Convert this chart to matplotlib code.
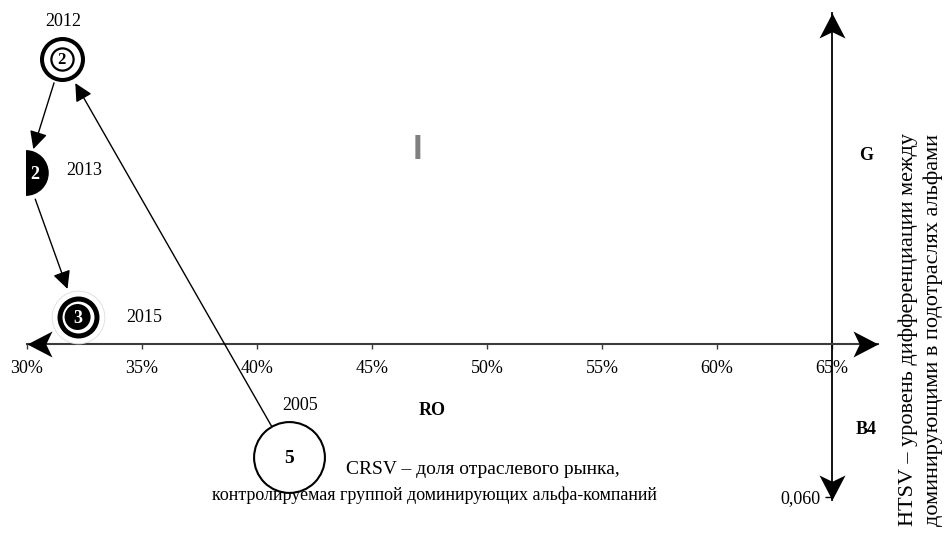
import matplotlib
matplotlib.use("Agg")
import matplotlib.pyplot as plt
from matplotlib.markers import MarkerStyle
from matplotlib.path import Path
from matplotlib.transforms import Affine2D

plt.rcParams['font.family'] = ['Liberation Serif', 'DejaVu Serif']

# data
years = ['2005', '2012', '2013', '2015']
crsv = [41.4, 31.5, 29.95, 32.2]          # доля рынка, %
htsv = [0.064, 0.1038, 0.0924, 0.078]     # уровень дифференциации
stage = ['5', '2', '2', '3']

x_ticks = [30, 35, 40, 45, 50, 55, 60, 65]
x_tick_labels = ['30%', '35%', '40%', '45%', '50%', '55%', '60%', '65%']
y_ticks = [0.060]
y_tick_labels = ['0,060']

x_cross = 65        # where the vertical axis stands
y_cross = 0.0753    # where the horizontal axis stands
x_end = 67
y_top = 0.1084
y_bottom = 0.0597

# stealth arrow head, pointing right, tip at the origin
head = Path([(0, 0), (-1, 0.52), (-0.75, 0), (-1, -0.52), (0, 0)],
            [Path.MOVETO, Path.LINETO, Path.LINETO, Path.LINETO, Path.CLOSEPOLY])


def arrow_head(ax, x, y, angle):
    m = MarkerStyle(head, transform=Affine2D().rotate_deg(angle))
    ax.plot([x], [y], marker=m, markersize=36, color='black', mew=0,
            linestyle='none', clip_on=False, zorder=4)


fig = plt.figure(figsize=(9.44, 5.34), dpi=100)
ax = fig.add_axes([26 / 944, 0, 918 / 944, 1])
ax.set_xlim(29.9565, 69.87)
ax.set_ylim(0.0563, 0.1097)
ax.patch.set_alpha(0)

for s in ['top', 'right']:
    ax.spines[s].set_visible(False)
ax.spines['bottom'].set_position(('data', y_cross))
ax.spines['bottom'].set_bounds(30, x_end)
ax.spines['bottom'].set_color('#3c3c3c')
ax.spines['bottom'].set_linewidth(1.5)
ax.spines['left'].set_position(('data', x_cross))
ax.spines['left'].set_bounds(y_bottom, y_top)
ax.spines['left'].set_color('black')
ax.spines['left'].set_linewidth(1.3)

ax.set_xticks(x_ticks)
ax.set_xticklabels(x_tick_labels, fontsize=13)
ax.tick_params(axis='x', direction='out', length=3.5, width=1, color='#3c3c3c', pad=8)
ax.set_yticks(y_ticks)
ax.set_yticklabels(y_tick_labels, fontsize=13)
ax.tick_params(axis='y', direction='out', length=5, width=1, color='black', pad=3)

arrow_head(ax, 30, y_cross, 180)
arrow_head(ax, x_end, y_cross, 0)
arrow_head(ax, x_cross, y_top, 90)
arrow_head(ax, x_cross, y_bottom, -90)

# trajectory arrows: (from, to, shrinkA, shrinkB)
links = [(0, 1, 25, 20), (1, 2, 18, 18), (2, 3, 20, 21.5)]
for a, b, sa, sb in links:
    ax.annotate('', xy=(crsv[b], htsv[b]), xytext=(crsv[a], htsv[a]),
                arrowprops=dict(arrowstyle='-|>', color='black', lw=1,
                                mutation_scale=27, shrinkA=sa, shrinkB=sb),
                zorder=3)

# 2005: open circle
ax.scatter(crsv[0], htsv[0], s=51 ** 2, facecolor='white', edgecolor='black',
           linewidth=1.5, zorder=5)
# 2012: double ring
ax.scatter(crsv[1], htsv[1], s=29.5 ** 2, facecolor='white', edgecolor='black',
           linewidth=2.9, zorder=5)
ax.scatter(crsv[1], htsv[1], s=16 ** 2, facecolor='white', edgecolor='black',
           linewidth=1.6, zorder=6)
# 2013: black disc cut by the left edge
ax.scatter(crsv[2], htsv[2], s=33 ** 2, facecolor='black', edgecolor='none', zorder=5)
# 2015: ring with black centre
ax.scatter(crsv[3], htsv[3], s=38 ** 2, facecolor='white', edgecolor='#dddddd',
           linewidth=0.6, zorder=5)
ax.scatter(crsv[3], htsv[3], s=26.6 ** 2, facecolor='white', edgecolor='black',
           linewidth=3.6, zorder=6)
ax.scatter(crsv[3], htsv[3], s=18.7 ** 2, facecolor='black', edgecolor='none', zorder=7)

num_colors = ['black', 'black', 'white', 'white']
num_sizes = [14, 12, 13, 13]
num_offsets = [(0, -1), (0, -1), (6.5, -1), (0, -1)]
year_offsets = [(8, 37), (1.5, 27), (42, 2), (48, 0)]
for i in range(len(years)):
    ax.annotate(stage[i], (crsv[i], htsv[i]), xytext=num_offsets[i],
                textcoords='offset points', ha='center', va='center',
                fontsize=num_sizes[i], fontweight='bold', color=num_colors[i],
                zorder=8, annotation_clip=False)
    ax.annotate(years[i], (crsv[i], htsv[i]), xytext=year_offsets[i],
                textcoords='offset points', ha='center', va='center',
                fontsize=13, zorder=8, annotation_clip=False)

# quadrant marks
ax.text(66.48, 0.0942, 'G', fontsize=13, fontweight='bold', ha='center', va='center')
ax.text(66.48, 0.0668, 'B4', fontsize=13, fontweight='bold', ha='center', va='center')
ax.text(47.6, 0.0687, 'RO', fontsize=13, fontweight='bold', ha='center', va='center')
ax.text(47.0, 0.0948, 'I', fontsize=25, fontweight='bold', color='#808080',
        family='Liberation Sans', ha='center', va='center')

# axis titles
ax.text(49.83, 0.0627, 'CRSV – доля отраслевого рынка,', fontsize=14,
        ha='center', va='center')
ax.text(47.70, 0.0602, 'контролируемая группой доминирующих альфа-компаний',
        fontsize=13, ha='center', va='center')
fig.text(908 / 944, 1 - 330 / 534, 'HTSV – уровень дифференциации между',
         rotation=90, fontsize=16, ha='center', va='center')
fig.text(933 / 944, 1 - 330 / 534, 'доминирующими в подотраслях альфами',
         rotation=90, fontsize=16, ha='center', va='center')

fig.savefig('out.png', dpi=100)
